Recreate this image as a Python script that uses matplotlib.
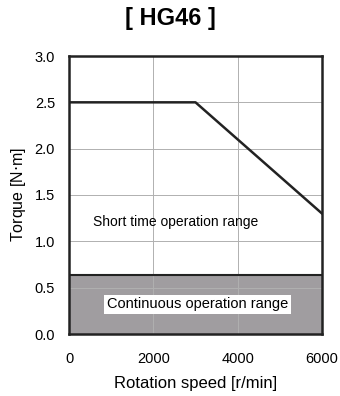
import matplotlib.pyplot as plt

speed = [0, 3000, 6000]
torque = [2.5, 2.5, 1.3]
cont_torque = 0.64
x_ticks = [0, 2000, 4000, 6000]
y_ticks = [0.0, 0.5, 1.0, 1.5, 2.0, 2.5, 3.0]

plt.rcParams['font.family'] = ['Liberation Sans', 'DejaVu Sans']

fig = plt.figure(figsize=(3.4, 3.96), dpi=100)
ax = fig.add_axes([69 / 340, 62 / 396, 253 / 340, 278 / 396])

ax.fill_between([0, 6000], 0, cont_torque, color='#a09da0', zorder=1)
ax.axhline(cont_torque, color='#222222', lw=1.5, zorder=3)
ax.plot(speed, torque, color='#222222', lw=1.8, zorder=3)

ax.set_xlim(0, 6000)
ax.set_ylim(0, 3.0)
ax.set_xticks(x_ticks)
ax.set_yticks(y_ticks)
ax.set_yticklabels([f'{v:.1f}' for v in y_ticks])
ax.grid(True, color='#b0b0b0', lw=0.7, zorder=2)
ax.set_axisbelow(False)
ax.tick_params(length=0, labelsize=10.5)
ax.tick_params(axis='x', pad=13)
ax.tick_params(axis='y', pad=10)
for s in ax.spines.values():
    s.set_linewidth(1.8)
    s.set_color('#222222')
    s.set_zorder(4)

ax.text(2520, 1.21, 'Short time operation range', fontsize=10,
        ha='center', va='center', zorder=5)
ax.text(3040, 0.32, 'Continuous operation range', fontsize=10.5,
        ha='center', va='center', zorder=5,
        bbox=dict(facecolor='white', edgecolor='none', pad=2))

ax.set_xlabel('Rotation speed [r/min]', fontsize=12, labelpad=7)
ax.set_ylabel('Torque [N$\\cdot$m]', fontsize=11.5, labelpad=5)
fig.text(0.5, 0.953, '[ HG46 ]', fontsize=17, fontweight='bold',
         ha='center', va='center')

fig.savefig('out.png', dpi=100)
